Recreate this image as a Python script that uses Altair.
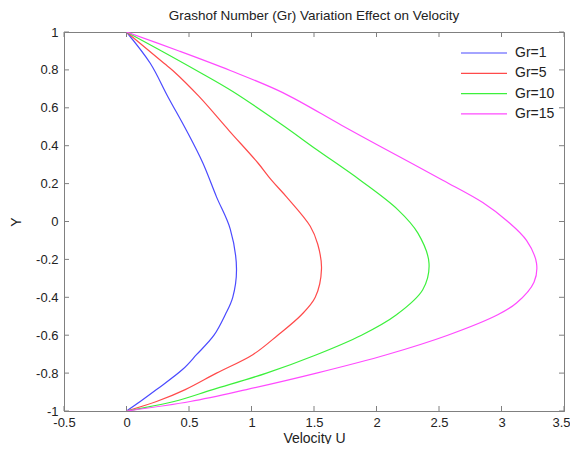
import altair as alt
import pandas as pd

series = ["Gr=1", "Gr=5", "Gr=10", "Gr=15"]
colors = ["#4a4aff", "#ff4a4a", "#3cf03c", "#ff4aff"]

y_gr1 = [1.0, 0.835, 0.66, 0.48, 0.31, 0.13, -0.04, -0.25, -0.4, -0.492, -0.6, -0.703, -0.78, -0.887, -0.95, -1.0]
u_gr1 = [0.0, 0.19, 0.33, 0.48, 0.61, 0.72, 0.83, 0.88, 0.85, 0.79, 0.70, 0.56, 0.45, 0.24, 0.11, 0.0]

y_gr5 = [1.0, 0.835, 0.797, 0.66, 0.48, 0.31, 0.218, 0.13, -0.025, -0.12, -0.25, -0.4, -0.492, -0.6, -0.703, -0.8, -0.887, -0.95, -1.0]
u_gr5 = [0.0, 0.30, 0.37, 0.58, 0.82, 1.05, 1.16, 1.28, 1.47, 1.53, 1.56, 1.51, 1.40, 1.21, 1.01, 0.72, 0.47, 0.24, 0.0]

y_gr10 = [1.0, 0.9, 0.797, 0.686, 0.508, 0.38, 0.218, 0.063, -0.06, -0.22, -0.36, -0.492, -0.6, -0.703, -0.8, -0.887, -0.95, -1.0]
u_gr10 = [0.0, 0.28, 0.56, 0.85, 1.25, 1.52, 1.87, 2.17, 2.33, 2.42, 2.37, 2.16, 1.88, 1.52, 1.12, 0.69, 0.38, 0.0]

y_gr15 = [1.0, 0.9, 0.797, 0.68, 0.508, 0.40, 0.218, 0.1, 0.0, -0.1, -0.22, -0.32, -0.43, -0.492, -0.6, -0.703, -0.8, -0.887, -0.95, -1.0]
u_gr15 = [0.0, 0.42, 0.83, 1.25, 1.72, 2.02, 2.53, 2.85, 3.05, 3.20, 3.28, 3.26, 3.12, 2.97, 2.57, 2.08, 1.52, 0.96, 0.51, 0.0]

x_ticks = [-0.5, 0, 0.5, 1, 1.5, 2, 2.5, 3, 3.5]
y_ticks = [-1, -0.8, -0.6, -0.4, -0.2, 0, 0.2, 0.4, 0.6, 0.8, 1]

rows = []
for name, ys, us in zip(series, [y_gr1, y_gr5, y_gr10, y_gr15], [u_gr1, u_gr5, u_gr10, u_gr15]):
    for i, (yv, uv) in enumerate(zip(ys, us)):
        rows.append({"series": name, "Y": yv, "U": uv, "idx": i})
df = pd.DataFrame(rows)

W, H = 500, 379
AX = "#808080"
TXT = "#222222"
FONT = "Liberation Sans"

xscale = alt.Scale(domain=[-0.5, 3.5], nice=False, zero=False)
yscale = alt.Scale(domain=[-1, 1], nice=False, zero=False)

xaxis = alt.Axis(values=x_ticks, title="Velocity U", labelExpr="'' + datum.value", ticks=False,
                 grid=False, domainColor=AX, labelPadding=5, titlePadding=2, labelFontSize=13,
                 titleFontSize=14, titleFontWeight="normal", labelColor=TXT, titleColor=TXT,
                 labelFlush=False,
                 labelOffset={"condition": {"test": "datum.value == 3.5", "value": -3}, "value": 0})
yaxis = alt.Axis(values=y_ticks, title="Y", labelExpr="'' + datum.value", ticks=False,
                 grid=False, domainColor=AX, labelPadding=6, titlePadding=12, labelFontSize=13,
                 titleFontSize=14, titleFontWeight="normal", labelColor=TXT, titleColor=TXT,
                 labelFlush=False)

lines = alt.Chart(df).mark_line(strokeWidth=1.2, clip=True, interpolate="catmull-rom").encode(
    x=alt.X("U:Q", scale=xscale, axis=xaxis),
    y=alt.Y("Y:Q", scale=yscale, axis=yaxis),
    color=alt.Color("series:N", scale=alt.Scale(domain=series, range=colors),
                    legend=alt.Legend(title=None, orient="none", legendX=396, legendY=11,
                                      symbolType="stroke", symbolSize=2116, symbolStrokeWidth=1.2,
                                      labelFontSize=14, labelFont=FONT, labelColor=TXT,
                                      clipHeight=20, rowPadding=0.3, labelOffset=7, padding=0)),
    order=alt.Order("idx:Q"),
)

xt = pd.DataFrame({"U": x_ticks})
yt = pd.DataFrame({"Y": y_ticks})

xtick_b = alt.Chart(xt).mark_rule(color=AX, strokeWidth=1).encode(
    x=alt.X("U:Q", scale=xscale, axis=xaxis), y=alt.value(H), y2=alt.value(H - 5))
xtick_t = alt.Chart(xt).mark_rule(color=AX, strokeWidth=1).encode(
    x=alt.X("U:Q", scale=xscale, axis=xaxis), y=alt.value(0), y2=alt.value(5))
ytick_l = alt.Chart(yt).mark_rule(color=AX, strokeWidth=1).encode(
    y=alt.Y("Y:Q", scale=yscale, axis=yaxis), x=alt.value(0), x2=alt.value(5))
ytick_r = alt.Chart(yt).mark_rule(color=AX, strokeWidth=1).encode(
    y=alt.Y("Y:Q", scale=yscale, axis=yaxis), x=alt.value(W), x2=alt.value(W - 5))

chart = alt.layer(xtick_b, xtick_t, ytick_l, ytick_r, lines).properties(
    width=W, height=H,
    title=alt.Title("Grashof Number (Gr) Variation Effect on Velocity", fontSize=13.5,
                    fontWeight="normal", offset=4, color=TXT, font=FONT),
    autosize=alt.AutoSizeParams(type="none"),
    padding={"left": 56, "top": 24, "right": 6, "bottom": 33},
).configure(font=FONT, background="white").configure_view(stroke=AX, strokeWidth=1)

chart.save("out.html", embed_options={"renderer": "svg", "actions": False})
